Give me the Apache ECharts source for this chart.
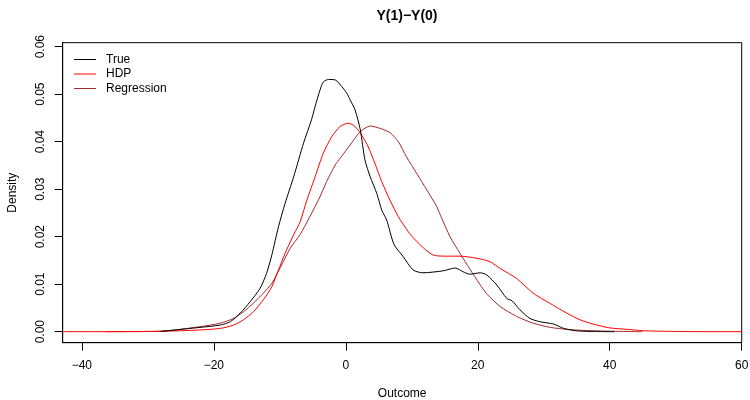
<!DOCTYPE html>
<html>
<head>
<meta charset="utf-8">
<script src="https://cdn.jsdelivr.net/npm/echarts@6/dist/echarts.min.js"></script>
<style>html,body{margin:0;padding:0;background:#fff}#c{width:750px;height:400px}</style>
</head>
<body>
<div id="c"></div>
<script>
// ---- data ----
const titleText = "Y(1)\u2212Y(0)";
const xTicks = [-40, -20, 0, 20, 40, 60];
const yTicks = [0, 0.01, 0.02, 0.03, 0.04, 0.05, 0.06];
const seriesNames = ["True", "HDP", "Regression"];

const trueX = [-28.1,-22.1,-19.0,-17.5,-16.0,-14.5,-13.0,-12.0,-11.2,-10.2,-9.2,-7.9,-6.4,-5.2,-4.65,-3.9,-3.4,-2.6,-1.6,-0.6,0.15,0.65,1.4,2.2,2.9,3.7,4.7,5.45,6.2,7.3,8.7,10.2,11.7,14.7,16.6,17.8,18.8,20.4,21.4,22.9,24.4,25.2,26.4,27.9,29.4,31.5,33.0,34.8,37.0,40.8];
const trueY = [0.00004,0.0009,0.0014,0.0021,0.0039,0.0063,0.0091,0.0123,0.0162,0.0221,0.0270,0.0326,0.0397,0.0446,0.0474,0.0509,0.0526,0.0531,0.0530,0.0516,0.0502,0.0488,0.0467,0.0425,0.0362,0.0326,0.0291,0.0256,0.0235,0.0184,0.0158,0.0130,0.0124,0.0128,0.0134,0.0126,0.0121,0.0124,0.0119,0.0098,0.0070,0.0065,0.0046,0.0028,0.0021,0.0016,0.0007,0.0002,0.00005,0];

const hdpX = [-42.9,-35,-28,-22.1,-19.0,-17.0,-15.5,-14.0,-12.5,-11.2,-10.2,-9.2,-7.9,-6.9,-5.9,-4.65,-3.4,-2.1,-0.86,0.4,1.4,2.4,3.4,4.4,5.45,6.7,7.97,9.5,10.2,11.8,13.3,15.3,17.3,18.8,20.4,21.9,23.4,25.9,28.4,30.9,33.5,35.5,37.5,40.0,42.6,45.1,47.6,52,60];
const hdpY = [0,0.00001,0.00008,0.00036,0.0007,0.0014,0.0025,0.0042,0.0067,0.0095,0.0130,0.0165,0.0204,0.0232,0.0277,0.0326,0.0376,0.0411,0.0432,0.0439,0.0432,0.0414,0.0389,0.0355,0.0316,0.0277,0.0242,0.0210,0.0198,0.0176,0.0161,0.0159,0.0159,0.0157,0.0153,0.0147,0.0133,0.0112,0.0081,0.0060,0.0039,0.0025,0.0016,0.0008,0.0005,0.0002,0.0001,0.00002,0];

const regX = [-36.5,-28.1,-22.1,-19.0,-17.0,-15.5,-14.0,-12.5,-11.2,-10.0,-8.4,-6.9,-4.15,-2.9,-1.6,-0.86,0.65,2.2,3.7,5.2,6.7,7.97,9.2,10.75,12.3,13.8,14.5,15.8,17.3,18.8,20.3,21.4,23.4,25.9,28.4,31.0,33.5,35.5,40.0,45.0];
const regY = [0,0.0001,0.00105,0.0018,0.0028,0.0042,0.0060,0.0081,0.0102,0.0133,0.0176,0.0205,0.0277,0.0316,0.0351,0.0365,0.0393,0.0421,0.0433,0.0428,0.0419,0.0400,0.0368,0.0333,0.0298,0.0263,0.0240,0.0200,0.0165,0.0132,0.0100,0.0079,0.0053,0.0032,0.0018,0.0009,0.0005,0.0003,0.0001,0];

const seriesColors = ["#000000", "#FF0000", "#A52A2A"];

const pairs = (xs, ys) => xs.map((x, i) => [x, ys[i]]);
const seriesData = [pairs(trueX, trueY), pairs(hdpX, hdpY), pairs(regX, regY)];

const FONT = "'Liberation Sans', Arial, Helvetica, sans-serif";
const chart = echarts.init(document.getElementById('c'), null, {renderer: 'canvas'});
chart.setOption({
  animation: false,
  backgroundColor: '#ffffff',
  title: {
    text: titleText, left: 402, top: 4, textAlign: 'center',
    textStyle: {fontFamily: FONT, fontSize: 14, fontWeight: 'bold', color: '#000'}
  },
  legend: {
    data: seriesNames.map(n => ({name: n, icon: 'rect'})),
    orient: 'vertical', left: 74, top: 52.5,
    itemWidth: 22, itemHeight: 1, itemGap: 0.5, padding: 0,
    textStyle: {fontFamily: FONT, fontSize: 12, color: '#000', lineHeight: 14, padding: [0, 0, 0, 5]}
  },
  grid: {left: 62.7, right: 8.3, top: 42.7, bottom: 57.3, show: true, borderColor: '#000', borderWidth: 1,
    containLabel: false, outerBoundsMode: 'none'},
  xAxis: {
    type: 'value', min: -42.9, max: 60,
    name: 'Outcome', nameLocation: 'middle', nameGap: 45,
    nameTextStyle: {fontFamily: FONT, fontSize: 12, color: '#000'},
    axisLine: {show: true, onZero: false, lineStyle: {color: '#000', width: 1}},
    axisTick: {show: true, inside: false, length: 8, customValues: xTicks, lineStyle: {color: '#000'}},
    axisLabel: {customValues: xTicks, margin: 17, fontFamily: FONT, fontSize: 12, color: '#000',
      formatter: v => (v < 0 ? '\u2212' + Math.abs(v) : String(v))},
    splitLine: {show: false}
  },
  yAxis: {
    type: 'value', min: -0.00232, max: 0.06084,
    name: 'Density', nameLocation: 'middle', nameGap: 44, nameRotate: 90,
    nameTextStyle: {fontFamily: FONT, fontSize: 12, color: '#000'},
    axisLine: {show: true, onZero: false, lineStyle: {color: '#000', width: 1}},
    axisTick: {show: true, inside: false, length: 8, customValues: yTicks, lineStyle: {color: '#000'}},
    axisLabel: {customValues: yTicks, rotate: 90, margin: 16, fontFamily: FONT, fontSize: 12, color: '#000',
      formatter: v => v.toFixed(2)},
    splitLine: {show: false}
  },
  series: seriesNames.map((name, i) => ({
    name: name, type: 'line', data: seriesData[i],
    symbol: 'none', smooth: 0.25,
    lineStyle: {color: seriesColors[i], width: 1},
    itemStyle: {color: seriesColors[i]},
    z: 3 - i
  }))
});
</script>
</body>
</html>
